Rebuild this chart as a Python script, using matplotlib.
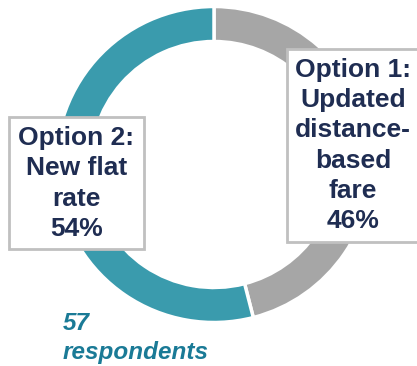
import matplotlib.pyplot as plt
from matplotlib.patches import Rectangle

plt.rcParams['font.family'] = ['Liberation Sans', 'DejaVu Sans']

#----------------------------------------------------------------------data
labels = ['Option 1:\nUpdated\ndistance-\nbased\nfare', 'Option 2:\nNew flat\nrate']
shares = [46, 54]
colors = ['#a6a6a6', '#3a9bad']
respondents = 57

W, H = 417, 366
fig = plt.figure(figsize=(W / 100, H / 100), dpi=100)
ax = fig.add_axes([0, 0, 1, 1])
ax.set_xlim(0, W)
ax.set_ylim(0, H)
ax.set_aspect('equal')
ax.axis('off')

#---------------------------------------------------------------------donut
ax.pie(shares, colors=colors, startangle=90, counterclock=False,
       center=(214, 201.5), radius=158,
       wedgeprops=dict(width=35, edgecolor='white', linewidth=2.5))
ax.set_xlim(0, W)
ax.set_ylim(0, H)

#---------------------------------------------------------------label boxes
navy = '#1f2d52'
boxes = [(287, 124, 132, 193, 353, 220.5),   # x, y, w, h, text x, text y
         (9, 117, 135, 132, 76.5, 182.5)]
for (bx, by, bw, bh, tx, ty), lab, val in zip(boxes, labels, shares):
    ax.add_patch(Rectangle((bx, by), bw, bh, facecolor='white',
                           edgecolor='#c0c0c0', linewidth=2, zorder=3))
    ax.text(tx, ty, lab + '\n' + str(val) + '%', ha='center', va='center',
            fontsize=19, fontweight='bold', color=navy, linespacing=1.33,
            zorder=4)

#---------------------------------------------------------------respondents
ax.text(63, 28, str(respondents) + '\nrespondents', ha='left', va='center',
        fontsize=17.5, fontweight='bold', fontstyle='italic', color='#1a7a96',
        linespacing=1.3)

fig.savefig('out.png', dpi=100)
